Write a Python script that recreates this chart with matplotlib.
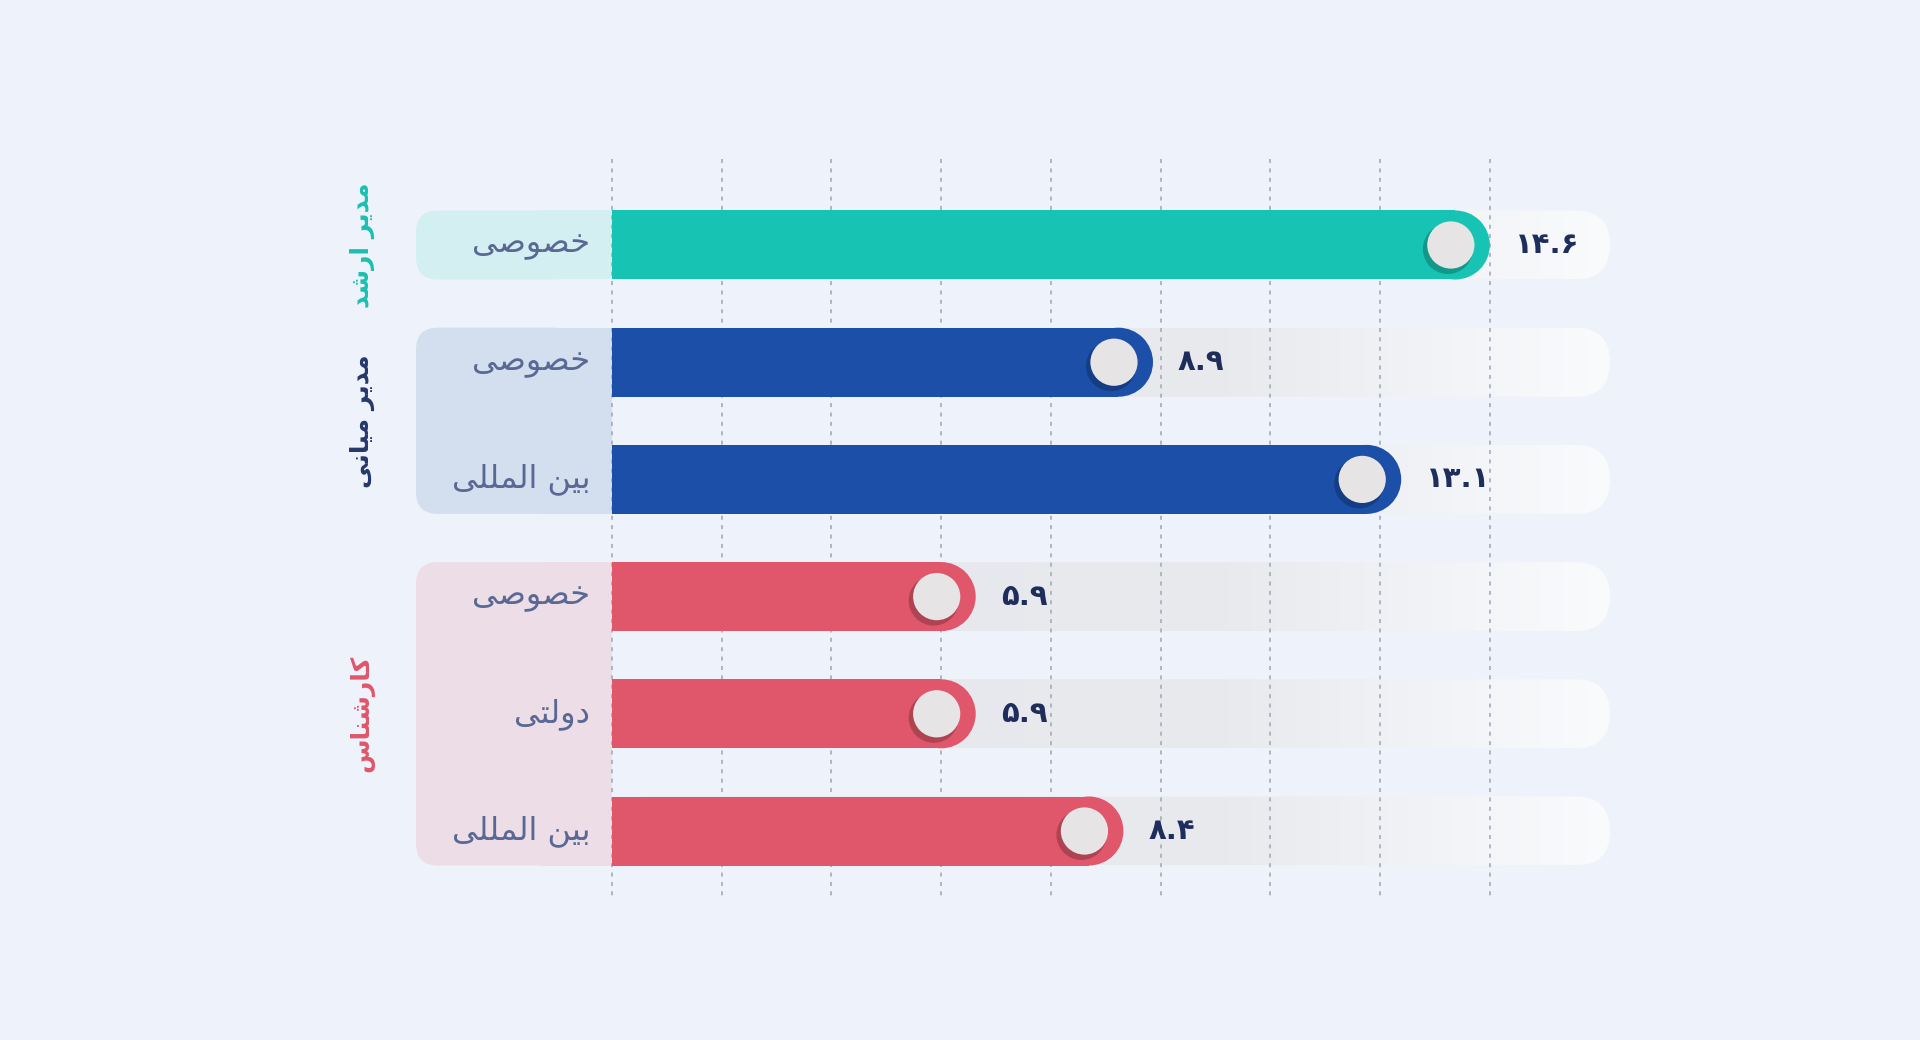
import numpy as np
import matplotlib
matplotlib.use("Agg")
import matplotlib.pyplot as plt
from matplotlib.patches import FancyBboxPatch, Rectangle, Ellipse
from matplotlib.colors import to_rgb

# ---------------- data ----------------
groups = ["مدیر ارشد", "مدیر میانی", "کارشناس"]
group_sizes = [1, 2, 3]
categories = ["خصوصی", "خصوصی", "بین المللی", "خصوصی", "دولتی", "بین المللی"]
values = [14.6, 8.9, 13.1, 5.9, 5.9, 8.4]
value_labels = ["۱۴.۶", "۸.۹", "۱۳.۱", "۵.۹", "۵.۹", "۸.۴"]

# ---------------- styles ----------------
group_colors = ["#17c3b2", "#1b4fa8", "#e0566a"]
group_box_colors = ["#d4eff2", "#d3deef", "#ecdde6"]
group_text_colors = ["#1bbfb0", "#26386a", "#e0566a"]
bg = "#eef2fa"
cat_color = "#5a6894"
val_color = "#1e2d5c"

# ---------------- simple Arabic-script shaping ----------------
FORMS = {
    "ا": ("\uFE8D", "\uFE8E", None, None),
    "ب": ("\uFE8F", "\uFE90", "\uFE91", "\uFE92"),
    "ت": ("\uFE95", "\uFE96", "\uFE97", "\uFE98"),
    "خ": ("\uFEA5", "\uFEA6", "\uFEA7", "\uFEA8"),
    "د": ("\uFEA9", "\uFEAA", None, None),
    "ر": ("\uFEAD", "\uFEAE", None, None),
    "س": ("\uFEB1", "\uFEB2", "\uFEB3", "\uFEB4"),
    "ش": ("\uFEB5", "\uFEB6", "\uFEB7", "\uFEB8"),
    "ص": ("\uFEB9", "\uFEBA", "\uFEBB", "\uFEBC"),
    "ل": ("\uFEDD", "\uFEDE", "\uFEDF", "\uFEE0"),
    "م": ("\uFEE1", "\uFEE2", "\uFEE3", "\uFEE4"),
    "ن": ("\uFEE5", "\uFEE6", "\uFEE7", "\uFEE8"),
    "و": ("\uFEED", "\uFEEE", None, None),
    "ی": ("\uFBFC", "\uFBFD", "\uFBFE", "\uFBFF"),
    "ک": ("\uFB8E", "\uFB8F", "\uFB90", "\uFB91"),
}


def shape(text):
    ch = list(text)
    out = []
    for i, c in enumerate(ch):
        if c not in FORMS:
            out.append(c)
            continue
        prev = ch[i - 1] if i > 0 else None
        nxt = ch[i + 1] if i + 1 < len(ch) else None
        jp = prev in FORMS and FORMS[prev][2] is not None
        jn = nxt in FORMS and FORMS[c][2] is not None
        iso, fin, ini, med = FORMS[c]
        if jp and jn:
            out.append(med)
        elif jp:
            out.append(fin)
        elif jn:
            out.append(ini)
        else:
            out.append(iso)
    return "".join(reversed(out))


plt.rcParams["font.family"] = ["DejaVu Sans"]

# ---------------- layout (pixels) ----------------
W, H = 1920, 1040
X0_PX = 612
PX_PER_UNIT = 59.1
CAP_EXT_PX = 15.0
ROW0_PX, ROW_STEP_PX = 245, 117.2
xmax = max(values)
ppx = PX_PER_UNIT
ppy = ROW_STEP_PX
ext = CAP_EXT_PX / ppx

fig = plt.figure(figsize=(W / 100, H / 100), dpi=100, facecolor=bg)
ax = fig.add_axes([0, 0, 1, 1])
ax.set_facecolor(bg)
xl, xr = -X0_PX / ppx, (W - X0_PX) / ppx
yt, yb = -ROW0_PX / ppy, (H - ROW0_PX) / ppy
ax.axis("off")

rows = np.arange(len(values))
bar_h = 69 / ppy
cap_r = 34.5 / ppx
aspect = ppx / ppy
track_right = (1610 - X0_PX) / ppx
box_left = (416 - X0_PX) / ppx
box_r = 22 / ppx

row_colors = []
for g, n in enumerate(group_sizes):
    row_colors += [group_colors[g]] * n

# tracks with gradient
grad_stops = np.array([[0.0] + list(to_rgb("#e6e7ec")),
                       [0.62] + list(to_rgb("#e9eaee")),
                       [1.0] + list(to_rgb("#fafbfd"))])
N = 400
t = np.linspace(0, 1, N)
grad = np.stack([np.interp(t, grad_stops[:, 0], grad_stops[:, k]) for k in (1, 2, 3)], axis=-1)[None, :, :]
for y in rows:
    pill = FancyBboxPatch((0, y - bar_h / 2), track_right, bar_h,
                          boxstyle=f"round,pad=0,rounding_size={cap_r}",
                          mutation_aspect=aspect, facecolor="none", edgecolor="none")
    ax.add_patch(pill)
    im = ax.imshow(grad, extent=[0, track_right, y + bar_h / 2, y - bar_h / 2],
                   aspect="auto", zorder=1, interpolation="bilinear")
    im.set_clip_path(pill)

# group label boxes
start = 0
for g, n in enumerate(group_sizes):
    top = start - bar_h / 2
    height = (n - 1) + bar_h
    ax.add_patch(FancyBboxPatch((box_left, top), (-0.6) - box_left, height,
                                boxstyle=f"round,pad=0,rounding_size={box_r}",
                                mutation_aspect=aspect, facecolor=group_box_colors[g],
                                edgecolor="none", zorder=2))
    ax.add_patch(Rectangle((-1.2, top), 1.2, height, facecolor=group_box_colors[g],
                           edgecolor="none", zorder=2))
    ax.text((362 - X0_PX) / ppx, start + (n - 1) / 2, shape(groups[g]), rotation=90,
            ha="center", va="center", fontsize=18, fontweight="bold",
            color=group_text_colors[g], zorder=5)
    start += n

# gridlines: 8 equal divisions up to the longest bar end
grid_x = np.linspace(0, xmax + ext, 9)
ax.vlines(grid_x, (159 - ROW0_PX) / ppy, (900 - ROW0_PX) / ppy, colors="#aab0bb",
          linestyles=(0, (2.2, 3.0)), linewidth=1.3, zorder=3)

# bars (value + rounded cap)
vals = np.array(values)
ax.barh(rows, vals + ext - cap_r, height=bar_h, left=0, color=row_colors,
        edgecolor="none", zorder=4)
for y, v, c in zip(rows, vals, row_colors):
    ax.add_patch(Ellipse((v + ext - cap_r, y), 2 * cap_r, bar_h, facecolor=c,
                         edgecolor="none", zorder=4))

# knobs
kx = vals + ext - 39 / ppx
dark = [tuple(np.array(to_rgb(c)) * 0.6) for c in row_colors]
ax.scatter(kx - 3 / ppx, rows + 4 / ppy, s=36 ** 2, c=dark, alpha=0.55,
           edgecolors="none", zorder=5)
ax.scatter(kx, rows, s=34 ** 2, c="#e6e4e4", edgecolors="none", zorder=6)

# category labels
for y, cat in zip(rows, categories):
    ax.text((590 - X0_PX) / ppx, y, shape(cat), ha="right", va="center",
            fontsize=23, color=cat_color, zorder=5)

# value labels
for y, v, lab in zip(rows, vals, value_labels):
    ax.text(v + ext + 25 / ppx, y, lab, ha="left", va="center", fontsize=21,
            fontweight="bold", color=val_color, zorder=6)

ax.set_xlim(xl, xr)
ax.set_ylim(yb, yt)
fig.savefig("out.png", dpi=100, facecolor=bg)
